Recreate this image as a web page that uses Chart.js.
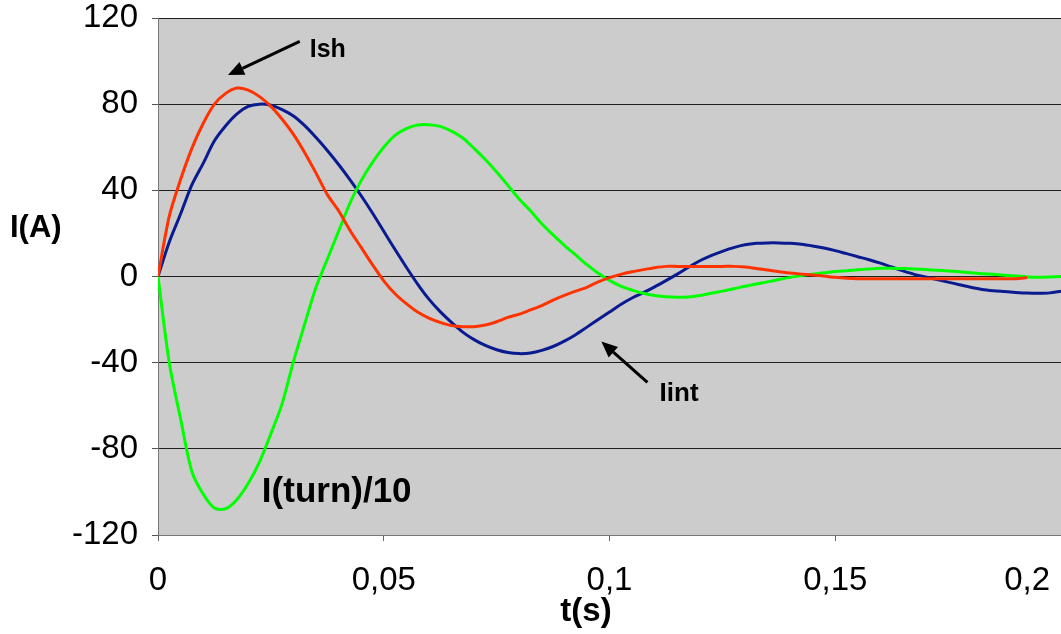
<!DOCTYPE html>
<html>
<head>
<meta charset="utf-8">
<script src="https://cdn.jsdelivr.net/npm/chart.js@4/dist/chart.umd.min.js"></script>
<style>
  body { margin: 0; background: #fff; }
  #wrap { width: 1061px; height: 634px; position: relative; }
</style>
</head>
<body>
<div id="wrap"><canvas id="js-current-chart"></canvas></div>
<script>
// time (s), one sample every 2.5 ms
var timeS = [0, 0.0025, 0.005, 0.0075, 0.01, 0.0125, 0.015, 0.0175, 0.02, 0.0225,
  0.025, 0.0275, 0.03, 0.0325, 0.035, 0.0375, 0.04, 0.0425, 0.045, 0.0475,
  0.05, 0.0525, 0.055, 0.0575, 0.06, 0.0625, 0.065, 0.0675, 0.07, 0.0725,
  0.075, 0.0775, 0.08, 0.0825, 0.085, 0.0875, 0.09, 0.0925, 0.095, 0.0975,
  0.1, 0.1025, 0.105, 0.1075, 0.11, 0.1125, 0.115, 0.1175, 0.12, 0.1225,
  0.125, 0.1275, 0.13, 0.1325, 0.135, 0.1375, 0.14, 0.1425, 0.145, 0.1475,
  0.15, 0.1525, 0.155, 0.1575, 0.16, 0.1625, 0.165, 0.1675, 0.17, 0.1725,
  0.175, 0.1775, 0.18, 0.1825, 0.185, 0.1875, 0.19, 0.1925, 0.195, 0.1975, 0.2];

// Ish (A)
var currentSh = [0, 28, 45, 59.5, 71, 80, 85, 87.5, 86.5, 83.5,
  79, 73, 66, 57.5, 48, 38, 30.5, 21.5, 13.5, 5.5,
  -2, -8, -12.6, -16.5, -19.3, -21.3, -22.8, -23.3, -23.3, -22.5,
  -21, -19, -17.5, -15.5, -13.5, -11, -8.8, -6.8, -5, -2.5,
  -0.5, 1, 2.2, 3.2, 4.1, 4.7, 4.7, 4.7, 4.7, 4.7,
  4.7, 4.7, 4.4, 3.7, 3, 2.2, 1.6, 1.1, 0.7, 0.2,
  -0.4, -0.8, -1, -1, -1, -1, -1, -1, -1, -1,
  -1, -1, -1, -1, -1, -1, -1, -0.5, null, null, null];

// Iint (A)
var currentInt = [0, 16, 29, 42.5, 52.5, 63, 70, 75.5, 79, 80,
  79.5, 77.5, 74.5, 70, 64.5, 58.5, 52, 45, 37.5, 29.5,
  21, 12.5, 4.3, -3.5, -10.5, -16.3, -21.3, -25.8, -29.3, -32,
  -34, -35.3, -35.8, -35.5, -34.3, -32.5, -30, -27, -23.5, -20,
  -16.5, -13, -10, -7.5, -4.8, -1.9, 1.1, 4.3, 7.3, 9.7,
  11.7, 13.4, 14.7, 15.4, 15.6, 15.6, 15.4, 15, 14.2, 13.2,
  12, 10.6, 9.2, 7.8, 6.2, 4.4, 2.6, 1, -0.2, -1.4,
  -2.6, -3.8, -5, -6, -6.6, -7, -7.4, -7.7, -7.8, -7.6, -6.8];

// I(turn)/10 (A)
var currentTurn = [0, -40, -66, -90.5, -101, -107.5, -107.8, -103.5, -96, -86,
  -73, -59, -39.5, -22, -5, 8, 21, 34, 44.5, 53,
  60, 65.5, 68.6, 70.3, 70.5, 69.7, 67.5, 64.3, 59.5, 54.3,
  48.5, 42.3, 36, 30.5, 24.5, 19.3, 14.5, 10, 5.5, 1.5,
  -1.8, -4.5, -6.3, -7.8, -8.8, -9.4, -9.6, -9.5, -8.8, -7.8,
  -6.8, -5.7, -4.5, -3.5, -2.5, -1.4, -0.4, 0.4, 1.1, 1.7,
  2.3, 2.7, 3.1, 3.5, 3.8, 3.8, 3.7, 3.5, 3.2, 2.9,
  2.6, 2.2, 1.7, 1.3, 1, 0.6, 0.2, -0.2, -0.3, -0.2, 0];

var xTicks = [0, 0.05, 0.1, 0.15, 0.2];
var xTickLabels = ['0', '0,05', '0,1', '0,15', '0,2'];

function toPoints(values) {
  return timeS.map((t, i) => ({ x: t, y: values[i] }));
}

const FONT = "'Liberation Sans', Arial, sans-serif";

// plot background, axis titles, tick labels and arrow notes
const decorations = {
  id: 'decorations',
  beforeDraw(chart) {
    const { ctx, chartArea } = chart;
    ctx.save();
    ctx.fillStyle = '#cccccc';
    ctx.fillRect(chartArea.left, chartArea.top, chartArea.right - chartArea.left, chartArea.bottom - chartArea.top);
    ctx.restore();
  },
  afterDraw(chart) {
    const { ctx, chartArea, width } = chart;
    const xs = chart.scales.x, ys = chart.scales.y;
    const px = v => xs.getPixelForValue(v);
    const py = v => ys.getPixelForValue(v);

    ctx.save();
    ctx.fillStyle = '#000';

    // x tick labels, last one kept inside the canvas
    ctx.font = '33px ' + FONT;
    ctx.textBaseline = 'middle';
    ctx.textAlign = 'center';
    xTicks.forEach((v, i) => {
      let x = px(v);
      const w = ctx.measureText(xTickLabels[i]).width;
      if (x + w / 2 > width - 11) x = width - 11 - w / 2;
      ctx.fillText(xTickLabels[i], x, chartArea.bottom + 46);
    });

    // axis titles
    ctx.font = 'bold 31px ' + FONT;
    ctx.textAlign = 'left';
    ctx.fillText('I(A)', 10, 228);
    ctx.textAlign = 'center';
    ctx.font = 'bold 33px ' + FONT;
    ctx.fillText('t(s)', 586, 612);

    // curve labels
    ctx.textAlign = 'left';
    ctx.textBaseline = 'alphabetic';
    ctx.font = 'bold 35px ' + FONT;
    ctx.fillText('I(turn)/10', px(0.023), py(-104.9));
    ctx.font = 'bold 25px ' + FONT;
    ctx.fillText('Ish', px(0.0336), py(101.7));
    ctx.font = 'bold 26px ' + FONT;
    ctx.fillText('Iint', px(0.1111), py(-57.6));

    drawArrow(ctx, px(0.0314), py(109.1), px(0.0155), py(93.5));
    drawArrow(ctx, px(0.1084), py(-49.2), px(0.0982), py(-30.2));
    ctx.restore();
  }
};

function drawArrow(ctx, x0, y0, x1, y1) {
  const ang = Math.atan2(y1 - y0, x1 - x0);
  const len = 16, half = 7;
  const bx = x1 - len * Math.cos(ang), by = y1 - len * Math.sin(ang);
  ctx.strokeStyle = '#000';
  ctx.lineWidth = 3;
  ctx.beginPath();
  ctx.moveTo(x0, y0);
  ctx.lineTo(bx, by);
  ctx.stroke();
  ctx.beginPath();
  ctx.moveTo(x1, y1);
  ctx.lineTo(bx + half * Math.sin(ang), by - half * Math.cos(ang));
  ctx.lineTo(bx - half * Math.sin(ang), by + half * Math.cos(ang));
  ctx.closePath();
  ctx.fill();
}

var currentChartData = {
  datasets: [{
    label: 'Ish',
    data: toPoints(currentSh),
    borderColor: '#ff3300',
    order: 0
  }, {
    label: 'I(turn)/10',
    data: toPoints(currentTurn),
    borderColor: '#00ff00',
    order: 1
  }, {
    label: 'Iint',
    data: toPoints(currentInt),
    borderColor: '#0a1a8f',
    order: 2
  }]
};

currentChartData.datasets.forEach(ds => {
  ds.borderWidth = 3;
  ds.pointRadius = 0;
  ds.fill = false;
  ds.tension = 0.3;
  ds.spanGaps = false;
});

var currentChartCanvas = document.getElementById('js-current-chart').getContext('2d');

var currentChart = new Chart(currentChartCanvas, {
  type: 'line',
  data: currentChartData,
  options: {
    responsive: true,
    maintainAspectRatio: false,
    animation: false,
    layout: { padding: { top: 18, right: 0, bottom: 0, left: 0 } },
    plugins: {
      legend: { display: false },
      tooltip: { enabled: false }
    },
    scales: {
      x: {
        type: 'linear',
        min: 0,
        max: 0.2,
        afterFit: scale => {
          scale.height = 99;
          scale.paddingLeft = 0;
          scale.paddingRight = 0;
        },
        ticks: { display: false, stepSize: 0.05 },
        grid: { display: true, drawOnChartArea: false, drawTicks: true, tickLength: 6, color: '#666' },
        border: { display: true, color: '#777', width: 1 }
      },
      y: {
        min: -120,
        max: 120,
        afterFit: scale => {
          scale.width = 158;
          scale.paddingTop = 0;
          scale.paddingBottom = 0;
        },
        ticks: {
          stepSize: 40,
          padding: 14,
          color: '#000',
          font: { family: FONT, size: 33 }
        },
        grid: { color: '#1e1e1e', tickColor: '#555', tickLength: 6 },
        border: { display: true, color: '#777', width: 1 }
      }
    }
  },
  plugins: [decorations]
});
</script>
</body>
</html>
